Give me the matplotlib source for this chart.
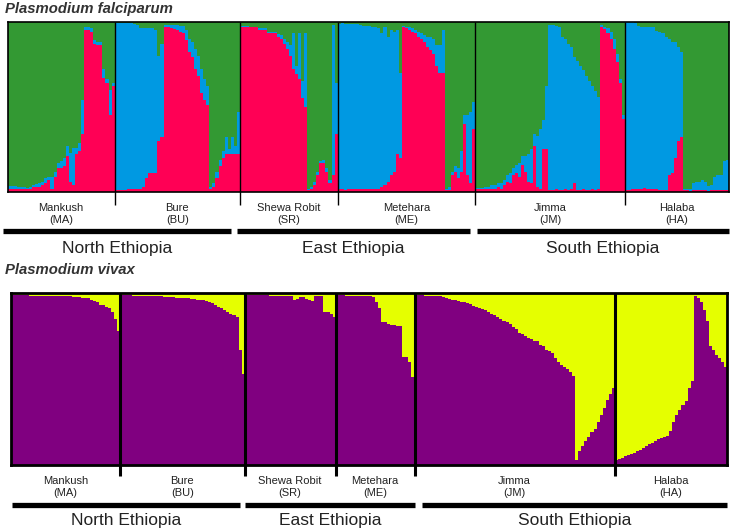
import numpy as np
import matplotlib
matplotlib.use("Agg")
import matplotlib.pyplot as plt
from matplotlib.transforms import blended_transform_factory

plt.rcParams['font.family'] = ['Liberation Sans', 'DejaVu Sans']

# ---------------- data ----------------
pop_labels = ["Mankush\n(MA)", "Bure\n(BU)", "Shewa Robit\n(SR)",
              "Metehara\n(ME)", "Jimma\n(JM)", "Halaba\n(HA)"]
region_labels = ["North Ethiopia", "East Ethiopia", "South Ethiopia"]

# P. falciparum: K=3 ancestry (red, blue; green = remainder)
pf_red_MA = [.02,.02,.02,.02,.02,.02,.015,.02,.03,.03,.03,.04,.05,.07,.02,.09,.14,.14,.15,.21,
             .06,.04,.22,.24,.34,.95,.95,.94,.87,.86,.86,.67,.64,.45,.62]
pf_blue_MA = [.015,.015,.015,.01,.01,.01,.01,.01,.01,.015,.02,.02,.03,.02,.07,.03,.03,.04,.05,.06,
              .17,.22,.04,.05,.2,.02,.02,.02,.02,.02,.02,.05,.02,.15,.02]
pf_red_BU = [.01,.01,.01,.01,.015,.015,.02,.02,.02,.03,.08,.11,.11,.11,.3,.32,
             .965,.965,.96,.955,.95,.94,.93,.89,.82,.79,.72,.68,.58,.54,.51,
             .02,.03,.08,.15,.2,.22,.22,.22,.22,.22]
pf_blue_BU = [.98,.98,.98,.98,.975,.975,.965,.96,.94,.93,.88,.85,.85,.84,.5,.55,
              .015,.015,.02,.025,.03,.035,.045,.06,.08,.09,.12,.12,.14,.12,.11,
              .01,.02,.04,.04,.04,.1,.03,.1,.05,.25]
pf_red_SR = [.97,.97,.97,.965,.965,.965,.95,.95,.95,.93,.93,.93,.91,.90,.87,.84,.80,.72,.69,.66,.55,.5,
             .01,.02,.04,.1,.17,.17,.12,.05,.1,.34]
pf_blue_SR = [.005,.005,.005,.005,.005,.005,.01,.01,.01,.01,.01,.01,.015,.02,.03,.04,.06,.21,.05,.27,.1,.43,
              .01,.01,.02,.02,.01,.02,.02,.02,.88,.3]
pf_red_ME = [.015,.015,.01,.015,.015,.02,.015,.015,.015,.02,.015,.02,.02,
             .02,.03,.04,.06,.1,.12,.22,.2,
             .965,.96,.95,.94,.93,.91,.9,.88,.85,.83,.81,.74,.7,.7,
             .01,.01,.1,.12,.08,.12,.4,.1,.05,.37]
pf_blue_ME = [.97,.975,.975,.97,.97,.965,.97,.965,.96,.955,.96,.95,.95,
              .94,.9,.93,.85,.85,.82,.73,.5,
              .01,.01,.015,.02,.02,.03,.03,.04,.06,.08,.09,.12,.16,.25,
              .01,.02,.02,.03,.06,.12,.05,.35,.42,.16]
pf_red_JM = [.015,.015,.015,.015,.02,.02,.02,.03,.02,.04,.06,.05,.1,.11,.09,.16,.12,.06,.05,.27,.03,.02,.25,.25,
             .01,.01,.015,.01,.01,.015,.01,.02,.05,.01,.01,.015,.01,.01,.02,.01,.02,
             .97,.955,.93,.9,.84,.76,.64,.43]
pf_blue_JM = [.01,.01,.01,.015,.01,.02,.02,.02,.03,.03,.04,.06,.04,.05,.08,.05,.09,.16,.2,.07,.3,.35,.17,.37,
              .97,.97,.96,.96,.9,.88,.86,.83,.74,.76,.73,.7,.67,.64,.6,.58,.54,
              .01,.01,.03,.04,.06,.05,.02,.02]
pf_red_HA = [.01,.01,.015,.02,.02,.02,.025,.02,.02,.02,.015,.01,.01,.01,.1,.11,.2,.3,.32,
             .01,.01,.005,.01,.01,.01,.01,.01,.005,.01,.01,.01,.01,.01,.01]
pf_blue_HA = [.985,.985,.98,.97,.955,.95,.945,.95,.945,.945,.93,.93,.92,.9,.8,.77,.68,.55,.5,
              .01,.01,.015,.04,.05,.05,.06,.05,.03,.03,.08,.09,.09,.17,.18]

# P. vivax: K=2 ancestry (purple; yellow = remainder)
pv_purple_MA = [.99,.99,.99,.99,.99,.99,.985,.985,.985,.985,.985,.985,.985,.98,.98,.98,.98,.98,.98,.98,
                .975,.975,.975,.97,.97,.97,.96,.955,.95,.93,.93,.92,.91,.89,.85,.78]
pv_purple_BU = [.99,.99,.99,.99,.985,.985,.985,.985,.985,.98,.98,.98,.98,.98,.975,.975,.975,.975,
                .97,.97,.97,.97,.97,.965,.965,.96,.96,.96,.955,.95,.94,.93,.92,.91,.9,.89,.88,.87,.86,.67,.53]
pv_purple_SR = [.99,.99,.99,.99,.99,.99,.99,.99,.985,.985,.985,.985,.985,.985,.985,.985,
                .96,.965,.975,.975,.965,.96,.955,.98,.985,.98,.89,.89,.88,.86]
pv_purple_ME = [.99,.99,.99,.985,.985,.985,.985,.98,.98,.98,.98,.98,.975,
                .95,.91,.83,.83,.82,.815,.815,.81,.81,.63,.63,.6,.51]
pv_purple_JM = [.99,.99,.99,.985,.985,.985,.985,.98,.98,.975,
                .97,.965,.96,.96,.955,.95,.945,.94,.935,.925,
                .92,.91,.905,.9,.89,.88,.87,.86,.85,.84,
                .83,.82,.8,.79,.77,.76,.75,.74,.73,.72,
                .72,.7,.69,.67,.66,.65,.62,.6,.58,.57,
                .56,.54,.52,.03,.08,.11,.14,.16,.19,.21,
                .25,.29,.33,.38,.41,.45]
pv_purple_HA = [.03,.035,.04,.05,.06,.065,.07,.08,.09,.1,.11,.12,.13,.14,.15,.155,.16,.17,.2,.25,
                .29,.32,.35,.37,.45,.49,.98,.97,.95,.9,.84,.69,.67,.64,.62,.6,.57]

pf_red = [pf_red_MA, pf_red_BU, pf_red_SR, pf_red_ME, pf_red_JM, pf_red_HA]
pf_blue = [pf_blue_MA, pf_blue_BU, pf_blue_SR, pf_blue_ME, pf_blue_JM, pf_blue_HA]
pv_purple = [pv_purple_MA, pv_purple_BU, pv_purple_SR, pv_purple_ME, pv_purple_JM, pv_purple_HA]

# ---------------- style ----------------
RED, BLUE, GREEN = "#FF0055", "#0099E2", "#339933"
PURPLE, YELLOW = "#800080", "#E5FF00"

W, H = 733, 531
fig = plt.figure(figsize=(W / 100, H / 100), dpi=100)


def fx(px):
    return px / W


def fy(py):
    return 1 - py / H


def make_axes(x0, x1, y0, y1):
    return fig.add_axes([fx(x0), fy(y1), (x1 - x0) / W, (y1 - y0) / H])


def stacked(ax, comps, colors):
    n = sum(len(c) for c in comps[0])
    x = np.arange(n)
    bottom = np.zeros(n)
    for comp, col in zip(comps, colors):
        vals = np.concatenate([np.asarray(v, float) for v in comp])
        ax.bar(x, vals, width=1.0, bottom=bottom, align='edge', color=col,
               linewidth=0, antialiased=False)
        bottom = bottom + vals
    ax.bar(x, 1 - bottom, width=1.0, bottom=bottom, align='edge', color=colors[len(comps)],
           linewidth=0, antialiased=False)


def finish(ax, counts, frame_lw, sep_lw, tick_len):
    n = sum(counts)
    ax.set_xlim(0, n)
    ax.set_ylim(0, 1)
    ax.set_xticks([])
    ax.set_yticks([])
    for s in ax.spines.values():
        s.set_linewidth(frame_lw)
        s.set_color("black")
        s.set_zorder(6)
    bounds = np.cumsum(counts)[:-1]
    ax.vlines(bounds, -tick_len, 1, color="black", lw=sep_lw, clip_on=False, zorder=5)
    edges = np.concatenate([[0], np.cumsum(counts)])
    return (edges[:-1] + edges[1:]) / 2


# ---- top panel: P. falciparum ----
ax1 = make_axes(7.7, 728.7, 21.5, 192)
stacked(ax1, [pf_red, pf_blue], [RED, BLUE, GREEN])
c1 = finish(ax1, [len(v) for v in pf_red], 1.2, 1.0, 0.075)

# ---- bottom panel: P. vivax ----
ax2 = make_axes(11, 727, 293, 465)
stacked(ax2, [pv_purple], [PURPLE, YELLOW])
c2 = finish(ax2, [len(v) for v in pv_purple], 2.0, 2.2, 0.065)

# titles
fig.text(fx(5), fy(9), "Plasmodium falciparum", fontsize=10.7, fontweight='bold',
         fontstyle='italic', color="#333333", ha='left', va='center')
fig.text(fx(5), fy(270), "Plasmodium vivax", fontsize=10.7, fontweight='bold',
         fontstyle='italic', color="#333333", ha='left', va='center')

# population labels
for ax, centers, ylab in [(ax1, c1, 214), (ax2, c2, 487)]:
    tr = blended_transform_factory(ax.transData, fig.transFigure)
    for cx, lab in zip(centers, pop_labels):
        ax.text(cx, fy(ylab), lab, transform=tr, ha='center', va='center',
                fontsize=8, color="#222222", linespacing=1.15)

# region bars and labels
region_px_top = [(3, 231), (237, 470), (477, 729)]
region_px_bot = [(12, 240), (245, 415), (422, 727)]
for spans, ybar, ytxt in [(region_px_top, 231, 248), (region_px_bot, 505, 521)]:
    for (a, b), lab in zip(spans, region_labels):
        fig.add_artist(plt.Line2D([fx(a), fx(b)], [fy(ybar), fy(ybar)],
                                  transform=fig.transFigure, color="black", lw=3.8,
                                  solid_capstyle='butt'))
        fig.text(fx((a + b) / 2), fy(ytxt), lab, ha='center', va='center',
                 fontsize=12.5, color="#222222")

fig.savefig("out.png", dpi=100)
